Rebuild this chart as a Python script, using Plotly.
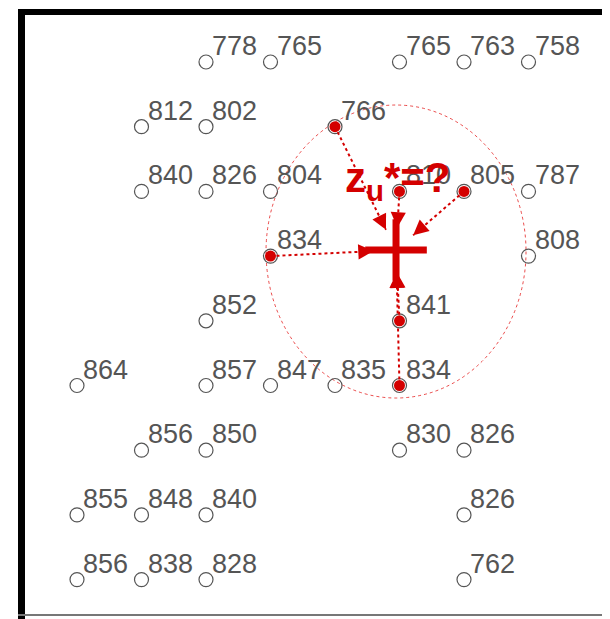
import plotly.graph_objects as go
import math

# ---- data -------------------------------------------------------------
# station grid positions (column, row) and observed values
st_col = [2, 3, 5, 6, 7,
          1, 2, 4,
          1, 2, 3, 5, 6, 7,
          3, 7,
          2, 5,
          0, 2, 3, 4, 5,
          1, 2, 5, 6,
          0, 1, 2, 6,
          0, 1, 2, 6]
st_row = [0, 0, 0, 0, 0,
          1, 1, 1,
          2, 2, 2, 2, 2, 2,
          3, 3,
          4, 4,
          5, 5, 5, 5, 5,
          6, 6, 6, 6,
          7, 7, 7, 7,
          8, 8, 8, 8]
st_val = [778, 765, 765, 763, 758,
          812, 802, 766,
          840, 826, 804, 810, 805, 787,
          834, 808,
          852, 841,
          864, 857, 847, 835, 834,
          856, 850, 830, 826,
          855, 848, 840, 826,
          856, 838, 828, 762]
st_sel = [0, 0, 0, 0, 0,
          0, 0, 1,
          0, 0, 0, 1, 1, 0,
          1, 0,
          0, 1,
          0, 0, 0, 0, 1,
          0, 0, 0, 0,
          0, 0, 0, 0,
          0, 0, 0, 0]
target_col = 4.946
target_row = 2.906
target_label = "<b>z<sub>u</sub>*=?</b>"

# ---- styling -----------------------------------------------------------
RED = "#d40000"
GREY = "#555555"
OFF = 8            # page body margin
W, H = 610 - OFF, 619 - OFF
PX = 64.5   # pixels per column
PY = 64.7   # pixels per row
x0_px, y0_px = 77 - OFF, 62 - OFF

fig = go.Figure()

# search ellipse
fig.add_shape(type="circle", xref="x", yref="y",
              x0=target_col - 130 / PX, x1=target_col + 130 / PX,
              y0=target_row - 145 / PY, y1=target_row + 148 / PY,
              line=dict(color="rgba(225,0,0,0.7)", width=1, dash="dot"),
              layer="below")

# all stations: open grey circles
fig.add_trace(go.Scatter(x=st_col, y=st_row, mode="markers",
                         marker=dict(symbol="circle-open", size=14,
                                     color=GREY, line=dict(width=1.2)),
                         hoverinfo="skip", showlegend=False))

sel_x = [c for c, s in zip(st_col, st_sel) if s]
sel_y = [r for r, s in zip(st_row, st_sel) if s]

# dotted connection lines + arrowheads
d_stop = 0.35
for sx, sy in zip(sel_x, sel_y):
    dx, dy = sx - target_col, sy - target_row
    n = math.hypot(dx, dy)
    ux, uy = dx / n, dy / n
    hx, hy = target_col + ux * d_stop, target_row + uy * d_stop
    fig.add_trace(go.Scatter(x=[sx, hx], y=[sy, hy], mode="lines",
                             line=dict(color=RED, width=2, dash="dot"),
                             hoverinfo="skip", showlegend=False))
    fig.add_annotation(x=hx, y=hy, ax=hx + ux * 0.22, ay=hy + uy * 0.22,
                       xref="x", yref="y", axref="x", ayref="y",
                       showarrow=True, arrowhead=2, arrowsize=1.9,
                       arrowwidth=1.6, arrowcolor=RED, text="")

# selected stations: filled red dots
fig.add_trace(go.Scatter(x=sel_x, y=sel_y, mode="markers",
                         marker=dict(symbol="circle", size=11, color=RED),
                         hoverinfo="skip", showlegend=False))

# target cross
fig.add_trace(go.Scatter(x=[target_col], y=[target_row], mode="markers",
                         marker=dict(symbol="cross-thin", size=44,
                                     line=dict(color=RED, width=7)),
                         hoverinfo="skip", showlegend=False))

# station labels
for c, r, v in zip(st_col, st_row, st_val):
    fig.add_annotation(x=c, y=r, text=str(v), showarrow=False,
                       xanchor="left", yanchor="middle", xshift=4, yshift=16,
                       font=dict(family="Liberation Sans", size=27, color=GREY))

# target label
fig.add_annotation(x=target_col, y=target_row, text=target_label,
                   showarrow=False, xanchor="center", yanchor="middle",
                   xshift=1, yshift=70,
                   font=dict(family="Liberation Sans", size=42, color=RED))

# frame (reference pixel coordinates)
def px2paper_x(p):
    return (p - OFF) / W

def px2paper_y(p):
    return 1 - (p - OFF) / H

frame = [
    (18, 9, 25, 619, "black"),       # left thick bar
    (18, 9, 619, 15, "black"),       # top bar
    (18, 614, 619, 616, "#777777"),  # bottom grey line
]
for xa, ya, xb, yb, col in frame:
    fig.add_shape(type="rect", xref="paper", yref="paper",
                  x0=px2paper_x(xa), x1=px2paper_x(xb),
                  y0=px2paper_y(ya), y1=px2paper_y(yb),
                  fillcolor=col, line=dict(width=0), layer="above")

fig.update_xaxes(range=[(0 - x0_px) / PX, (W - x0_px) / PX],
                 visible=False, fixedrange=True)
fig.update_yaxes(range=[(H - y0_px) / PY, (0 - y0_px) / PY],
                 visible=False, fixedrange=True)
fig.update_layout(width=W, height=H, margin=dict(l=0, r=0, t=0, b=0),
                  plot_bgcolor="white", paper_bgcolor="white")

fig.write_html("out.html")
